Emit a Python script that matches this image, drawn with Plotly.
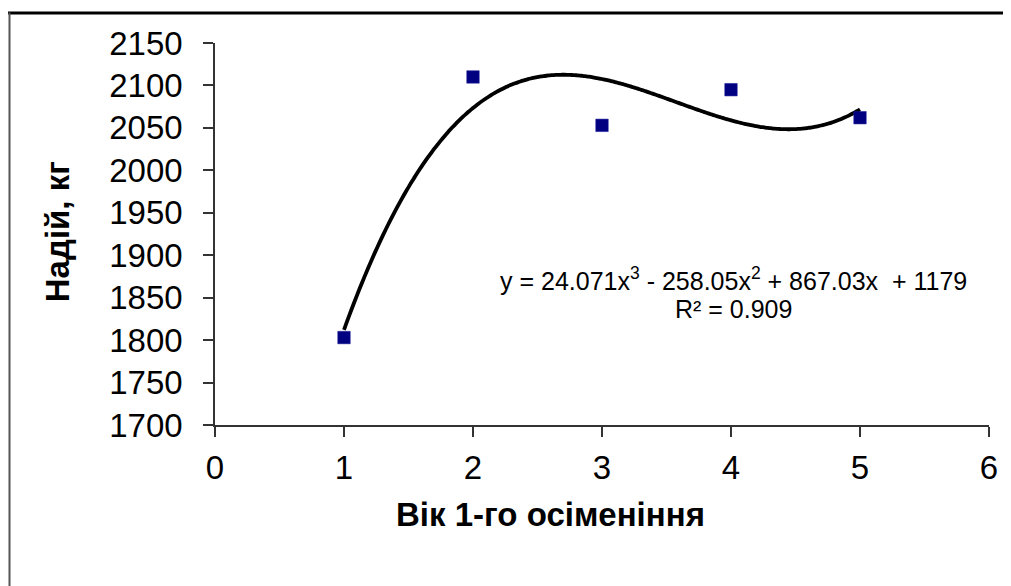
import numpy as np
import plotly.graph_objects as go

# Data
ages = [1, 2, 3, 4, 5]
yields = [1803, 2110, 2053, 2095, 2062]
# Cubic trendline coefficients as displayed (x^3, x^2, x, const)
trend_coefs = [24.071, -258.05, 867.03, 1179]
r_squared = 0.909
x_ticks = [0, 1, 2, 3, 4, 5, 6]
y_ticks = [1700, 1750, 1800, 1850, 1900, 1950, 2000, 2050, 2100, 2150]

FONT = "Liberation Sans, Arial, sans-serif"

# page body has an 8px margin; reference pixel positions are shifted by it
OFF = 8
W, H = 1011 - OFF, 586 - OFF
L, R, T, B = 215 - OFF, 989 - OFF, 42.5 - OFF, 425 - OFF

def px_to_paper_x(px):
    return (px - OFF - L) / (R - L)

def px_to_paper_y(py):
    return (B - (py - OFF)) / (B - T)

xs = np.linspace(min(ages), max(ages), 200)
ys = np.polyval(trend_coefs, xs)

fig = go.Figure()
fig.add_trace(go.Scatter(
    x=xs, y=ys, mode="lines",
    line=dict(color="black", width=3.8, shape="spline"),
    hoverinfo="skip", showlegend=False,
))
fig.add_trace(go.Scatter(
    x=ages, y=yields, mode="markers",
    marker=dict(symbol="square", size=12.5, color="#000080",
                line=dict(color="#1a1a9a", width=0.5)),
    showlegend=False,
))

eq = (f"y = {trend_coefs[0]}x<sup>3</sup> - {abs(trend_coefs[1])}x<sup>2</sup>"
      f" + {trend_coefs[2]}x  + {trend_coefs[3]}")
fig.add_annotation(x=px_to_paper_x(733), y=px_to_paper_y(279), xref="paper", yref="paper",
                   text=eq, showarrow=False, xanchor="center", yanchor="middle",
                   font=dict(family=FONT, size=25, color="black"))
fig.add_annotation(x=px_to_paper_x(733), y=px_to_paper_y(309), xref="paper", yref="paper",
                   text=f"R² = {r_squared}", showarrow=False, xanchor="center", yanchor="middle",
                   font=dict(family=FONT, size=25, color="black"))

# Axis titles
fig.add_annotation(x=px_to_paper_x(550), y=px_to_paper_y(515), xref="paper", yref="paper",
                   text="<b>Вік 1-го осіменіння</b>", showarrow=False,
                   xanchor="center", yanchor="middle",
                   font=dict(family=FONT, size=33, color="black"))
fig.add_annotation(x=px_to_paper_x(57), y=px_to_paper_y(232), xref="paper", yref="paper",
                   text="<b>Надій, кг</b>", showarrow=False, textangle=-90,
                   xanchor="center", yanchor="middle",
                   font=dict(family=FONT, size=33, color="black"))

# Outer chart frame (top and left visible)
fig.add_shape(type="line", xref="paper", yref="paper",
              x0=px_to_paper_x(8), x1=px_to_paper_x(1020),
              y0=px_to_paper_y(12.5), y1=px_to_paper_y(12.5),
              line=dict(color="black", width=3))
fig.add_shape(type="line", xref="paper", yref="paper",
              x0=px_to_paper_x(9.5), x1=px_to_paper_x(9.5),
              y0=px_to_paper_y(12), y1=px_to_paper_y(600),
              line=dict(color="#555555", width=2))

axis_common = dict(
    showgrid=False, zeroline=False, showline=True, linecolor="#333333", linewidth=1.5,
    ticks="outside", ticklen=10, tickwidth=1.5, tickcolor="#333333",
    tickfont=dict(family=FONT, size=33, color="black"),
)
fig.update_xaxes(range=[0, 6], tickvals=x_ticks, ticklabelstandoff=3, **axis_common)
fig.update_yaxes(range=[1700, 2150], tickvals=y_ticks, ticklabelstandoff=14, **axis_common)

fig.update_layout(
    width=W, height=H,
    margin=dict(l=L, r=W - R, t=T, b=H - B, autoexpand=False),
    paper_bgcolor="white", plot_bgcolor="white",
    showlegend=False,
)

fig.write_html("out.html")
